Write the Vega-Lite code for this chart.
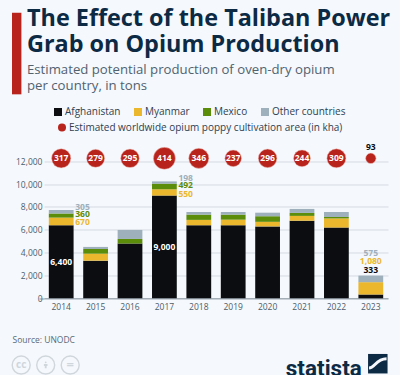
{
"$schema":"https://vega.github.io/schema/vega-lite/v6.json",
"width":344,"height":159.8,
"autosize":{"type":"none"},
"padding":{"left":44,"top":138.5,"right":12,"bottom":76.7},
"background":"#f5f8fc",
"config":{"view":{"stroke":null},"font":"Open Sans","text":{"font":"Open Sans"}},
"title":{"text":["The Effect of the Taliban Power","Grab on Opium Production"],"subtitle":["Estimated potential production of oven-dry opium","per country, in tons"],"anchor":"start","frame":"group","dx":-17,"offset":-85,"font":"Open Sans","fontWeight":700,"fontSize":23.4,"lineHeight":26,"color":"#0d2a45","subtitleFont":"Open Sans","subtitleFontSize":13.2,"subtitleLineHeight":16,"subtitleColor":"#51626f","subtitlePadding":6.2},
"data":{"values":[
{"year":"2014","series":"Afghanistan","value":6400},{"year":"2014","series":"Myanmar","value":670},{"year":"2014","series":"Mexico","value":360},{"year":"2014","series":"Other countries","value":305},
{"year":"2015","series":"Afghanistan","value":3300},{"year":"2015","series":"Myanmar","value":610},{"year":"2015","series":"Mexico","value":410},{"year":"2015","series":"Other countries","value":180},
{"year":"2016","series":"Afghanistan","value":4800},{"year":"2016","series":"Myanmar","value":0},{"year":"2016","series":"Mexico","value":400},{"year":"2016","series":"Other countries","value":790},
{"year":"2017","series":"Afghanistan","value":9000},{"year":"2017","series":"Myanmar","value":550},{"year":"2017","series":"Mexico","value":492},{"year":"2017","series":"Other countries","value":198},
{"year":"2018","series":"Afghanistan","value":6400},{"year":"2018","series":"Myanmar","value":470},{"year":"2018","series":"Mexico","value":460},{"year":"2018","series":"Other countries","value":230},
{"year":"2019","series":"Afghanistan","value":6400},{"year":"2019","series":"Myanmar","value":490},{"year":"2019","series":"Mexico","value":440},{"year":"2019","series":"Other countries","value":230},
{"year":"2020","series":"Afghanistan","value":6300},{"year":"2020","series":"Myanmar","value":400},{"year":"2020","series":"Mexico","value":490},{"year":"2020","series":"Other countries","value":310},
{"year":"2021","series":"Afghanistan","value":6800},{"year":"2021","series":"Myanmar","value":420},{"year":"2021","series":"Mexico","value":260},{"year":"2021","series":"Other countries","value":350},
{"year":"2022","series":"Afghanistan","value":6200},{"year":"2022","series":"Myanmar","value":800},{"year":"2022","series":"Mexico","value":125},{"year":"2022","series":"Other countries","value":435},
{"year":"2023","series":"Afghanistan","value":333},{"year":"2023","series":"Myanmar","value":1080},{"year":"2023","series":"Mexico","value":0},{"year":"2023","series":"Other countries","value":575},
{"year":"2014","series":"Estimated worldwide opium poppy cultivation area (in kha)","value":317},
{"year":"2015","series":"Estimated worldwide opium poppy cultivation area (in kha)","value":279},
{"year":"2016","series":"Estimated worldwide opium poppy cultivation area (in kha)","value":295},
{"year":"2017","series":"Estimated worldwide opium poppy cultivation area (in kha)","value":414},
{"year":"2018","series":"Estimated worldwide opium poppy cultivation area (in kha)","value":346},
{"year":"2019","series":"Estimated worldwide opium poppy cultivation area (in kha)","value":237},
{"year":"2020","series":"Estimated worldwide opium poppy cultivation area (in kha)","value":296},
{"year":"2021","series":"Estimated worldwide opium poppy cultivation area (in kha)","value":244},
{"year":"2022","series":"Estimated worldwide opium poppy cultivation area (in kha)","value":309},
{"year":"2023","series":"Estimated worldwide opium poppy cultivation area (in kha)","value":93}
]},
"transform":[{"stack":"value","groupby":["year"],"as":["y0","y1"]}],
"encoding":{"x":{"field":"year","type":"nominal","scale":{"paddingInner":0.28,"paddingOuter":0.14},"axis":{"title":"Source: UNODC","titleFont":"Open Sans","titleFontWeight":400,"titleFontSize":8.5,"titleColor":"#5a6a78","titleAnchor":"start","titleAlign":"left","titleBaseline":"alphabetic","titleX":-32,"titleY":44,"labelAngle":0,"labelFont":"Open Sans","labelFontSize":8.5,"labelColor":"#4d5c6a","labelPadding":4,"ticks":false,"domainColor":"#87939e","domainWidth":1}}},
"resolve":{"axis":{"y":"independent"}},
"layer":[
{"transform":[{"filter":"datum.series !== 'Estimated worldwide opium poppy cultivation area (in kha)'"}],
 "mark":{"type":"bar"},
 "encoding":{"y":{"field":"y1","type":"quantitative","scale":{"domain":[0,14000],"nice":false,"zero":true},"axis":{"title":null,"values":[0,2000,4000,6000,8000,10000,12000],"labelExpr":"format(datum.value, ',')","labelOverlap":false,"domain":false,"tickSize":5,"tickColor":{"condition":{"test":"datum.value === 0","value":"#87939e"},"value":"transparent"},"labelPadding":-3,"labelFont":"Open Sans","labelFontSize":8.5,"labelColor":"#4d5c6a","gridColor":"#d5dbe3","gridWidth":1}},"y2":{"field":"y0"},
 "color":{"field":"series","type":"nominal","scale":{"domain":["Afghanistan","Myanmar","Mexico","Other countries"],"range":["#0b0d10","#eab72d","#5b8c0a","#9db0bb"]},"legend":{"title":null,"orient":"none","legendX":9,"legendY":-31.5,"direction":"horizontal","columns":4,"gridAlign":"none","columnPadding":12,"symbolType":"square","symbolSize":64,"symbolStrokeWidth":0,"labelFont":"Open Sans","labelFontSize":10,"labelColor":"#2f4050","labelOffset":2}}}},
{"transform":[{"filter":"(datum.year === '2014' || datum.year === '2017') && datum.series === 'Other countries'"}],"mark":{"type":"text","align":"left","xOffset":14,"yOffset":-3.5,"fontWeight":700,"fontSize":8.5,"color":"#9db0bb"},"encoding":{"y":{"field":"y1","type":"quantitative","axis":null},"text":{"field":"value","type":"quantitative","format":","}}},
{"transform":[{"filter":"(datum.year === '2014' || datum.year === '2017') && datum.series === 'Mexico'"}],"mark":{"type":"text","align":"left","xOffset":14,"yOffset":1,"fontWeight":700,"fontSize":8.5,"color":"#5b8c0a"},"encoding":{"y":{"field":"y1","type":"quantitative","axis":null},"text":{"field":"value","type":"quantitative","format":","}}},
{"transform":[{"filter":"(datum.year === '2014' || datum.year === '2017') && datum.series === 'Myanmar'"}],"mark":{"type":"text","align":"left","xOffset":14,"yOffset":4.5,"fontWeight":700,"fontSize":8.5,"color":"#eab72d"},"encoding":{"y":{"field":"y1","type":"quantitative","axis":null},"text":{"field":"value","type":"quantitative","format":","}}},
{"transform":[{"filter":"datum.year === '2023' && datum.series === 'Other countries'"}],"mark":{"type":"text","yOffset":-22.3,"fontWeight":700,"fontSize":8.5,"color":"#9db0bb"},"encoding":{"y":{"field":"y1","type":"quantitative","axis":null},"text":{"field":"value","type":"quantitative","format":","}}},
{"transform":[{"filter":"datum.year === '2023' && datum.series === 'Myanmar'"}],"mark":{"type":"text","yOffset":-21,"fontWeight":700,"fontSize":8.5,"color":"#eab72d"},"encoding":{"y":{"field":"y1","type":"quantitative","axis":null},"text":{"field":"value","type":"quantitative","format":","}}},
{"transform":[{"filter":"datum.year === '2023' && datum.series === 'Afghanistan'"}],"mark":{"type":"text","yOffset":-24.2,"fontWeight":700,"fontSize":8.5,"color":"#0b0d10"},"encoding":{"y":{"field":"y1","type":"quantitative","axis":null},"text":{"field":"value","type":"quantitative","format":","}}},
{"transform":[{"filter":"datum.year === '2014' && datum.series === 'Afghanistan'"}],"mark":{"type":"text","yOffset":36.5,"fontWeight":700,"fontSize":8.5,"color":"#ffffff"},"encoding":{"y":{"field":"y1","type":"quantitative","axis":null},"text":{"field":"value","type":"quantitative","format":","}}},
{"transform":[{"filter":"datum.year === '2017' && datum.series === 'Afghanistan'"}],"mark":{"type":"text","yOffset":51,"fontWeight":700,"fontSize":8.5,"color":"#ffffff"},"encoding":{"y":{"field":"y1","type":"quantitative","axis":null},"text":{"field":"value","type":"quantitative","format":","}}},
{"transform":[{"filter":"datum.series === 'Estimated worldwide opium poppy cultivation area (in kha)'"}],"mark":{"type":"point","shape":"circle","filled":true,"opacity":1,"stroke":"#efc9c2","strokeWidth":0.5},
 "encoding":{"y":{"datum":12263,"axis":null},"size":{"field":"value","type":"quantitative","scale":{"domain":[0,414],"range":[0,484]},"legend":null},
 "fill":{"field":"series","type":"nominal","scale":{"range":["#b8231c"]},"legend":{"title":null,"orient":"none","legendX":13,"legendY":-16,"symbolType":"circle","symbolSize":64,"symbolStrokeWidth":0,"labelFont":"Open Sans","labelFontSize":10,"labelColor":"#2f4050","labelLimit":320,"labelOffset":2}}}},
{"transform":[{"filter":"datum.series === 'Estimated worldwide opium poppy cultivation area (in kha)' && datum.year !== '2023'"}],"mark":{"type":"text","fontWeight":700,"fontSize":8.5,"color":"#ffffff"},"encoding":{"y":{"datum":12263,"axis":null},"text":{"field":"value","type":"quantitative"}}},
{"transform":[{"filter":"datum.series === 'Estimated worldwide opium poppy cultivation area (in kha)' && datum.year === '2023'"}],"mark":{"type":"text","fontWeight":700,"fontSize":8.5,"color":"#0b0d10","yOffset":-11.5},"encoding":{"y":{"datum":12263,"axis":null},"text":{"field":"value","type":"quantitative"}}},
{"data":{"values":[{}]},"transform":[],"mark":{"type":"rule","strokeWidth":9.4,"color":"#b8231c","xOffset":-44.5},"encoding":{"x":{"datum":"2014"},"y":{"datum":25016,"axis":null},"y2":{"datum":17870}}},
{"data":{"values":[{"logo":"statista"}]},"transform":[],"mark":{"type":"text","align":"right","font":"Roboto","fontWeight":700,"fontSize":22.5,"color":"#0d2a45","xOffset":-9,"baseline":"alphabetic"},"encoding":{"x":{"datum":"2023"},"y":{"datum":-6770,"axis":null},"text":{"field":"logo"}}},
{"data":{"values":[{}]},"transform":[],"mark":{"type":"point","shape":"square","filled":true,"size":380,"color":"#0d2a45","opacity":1,"xOffset":7},"encoding":{"x":{"datum":"2023"},"y":{"datum":-5730,"axis":null}}},
{"data":{"values":[{}]},"transform":[],"mark":{"type":"point","shape":"M -0.9 0.45 C -0.3 0.45 -0.2 -0.5 0.9 -0.5","filled":false,"size":380,"stroke":"#f5f8fc","strokeWidth":3,"opacity":1,"xOffset":7},"encoding":{"x":{"datum":"2023"},"y":{"datum":-5730,"axis":null}}},
{"data":{"values":[{}]},"transform":[],"mark":{"type":"point","shape":"circle","filled":false,"size":324,"stroke":"#cfd6dc","strokeWidth":1.4,"opacity":1,"xOffset":-40},"encoding":{"x":{"datum":"2014"},"y":{"datum":-5850,"axis":null}}},
{"data":{"values":[{}]},"transform":[],"mark":{"type":"point","shape":"circle","filled":false,"size":324,"stroke":"#cfd6dc","strokeWidth":1.4,"opacity":1,"xOffset":-15.5},"encoding":{"x":{"datum":"2014"},"y":{"datum":-5850,"axis":null}}},
{"data":{"values":[{}]},"transform":[],"mark":{"type":"point","shape":"circle","filled":false,"size":324,"stroke":"#cfd6dc","strokeWidth":1.4,"opacity":1,"xOffset":9},"encoding":{"x":{"datum":"2014"},"y":{"datum":-5850,"axis":null}}},
{"data":{"values":[{"s":"cc"}]},"transform":[],"mark":{"type":"text","fontWeight":700,"fontSize":10,"color":"#cfd6dc","xOffset":-40},"encoding":{"x":{"datum":"2014"},"y":{"datum":-5850,"axis":null},"text":{"field":"s"}}},
{"data":{"values":[{"s":"="}]},"transform":[],"mark":{"type":"text","fontWeight":700,"fontSize":13,"color":"#cfd6dc","xOffset":9},"encoding":{"x":{"datum":"2014"},"y":{"datum":-5850,"axis":null},"text":{"field":"s"}}},
{"data":{"values":[{}]},"transform":[],"mark":{"type":"point","shape":"M -0.3 -0.9 A 0.3 0.3 0 1 1 0.3 -0.9 A 0.3 0.3 0 1 1 -0.3 -0.9 Z M -0.6 -0.35 L 0.6 -0.35 L 0.6 0.3 L 0.3 0.3 L 0.3 1.1 L -0.3 1.1 L -0.3 0.3 L -0.6 0.3 Z","filled":true,"size":36,"color":"#cfd6dc","opacity":1,"xOffset":-15.5},"encoding":{"x":{"datum":"2014"},"y":{"datum":-5850,"axis":null}}}
]
}
